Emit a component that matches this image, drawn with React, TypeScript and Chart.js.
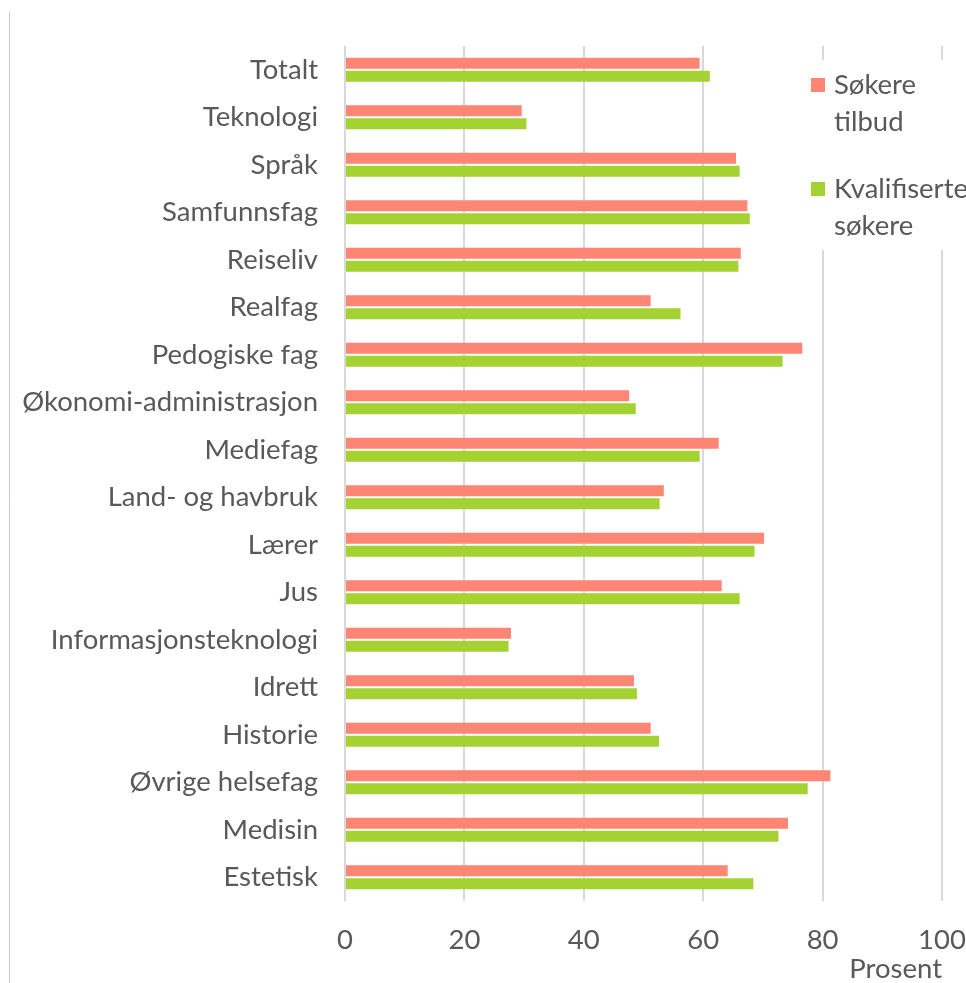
import React, { useEffect, useRef } from 'react';
import { Chart, registerables } from 'chart.js';
Chart.register(...registerables);

const categories = [
  'Totalt', 'Teknologi', 'Språk', 'Samfunnsfag', 'Reiseliv', 'Realfag', 'Pedogiske fag',
  'Økonomi-administrasjon', 'Mediefag', 'Land- og havbruk', 'Lærer', 'Jus',
  'Informasjonsteknologi', 'Idrett', 'Historie', 'Øvrige helsefag', 'Medisin', 'Estetisk',
];
const sokereTilbud = [59.4, 29.6, 65.5, 67.4, 66.3, 51.2, 76.6, 47.6, 62.6, 53.4, 70.2, 63.1, 27.8, 48.4, 51.2, 81.3, 74.2, 64.1];
const kvalifiserteSokere = [61.1, 30.4, 66.1, 67.8, 65.9, 56.2, 73.3, 48.7, 59.4, 52.7, 68.6, 66.1, 27.4, 48.9, 52.6, 77.5, 72.6, 68.4];
const seriesLabels = [['Søkere', 'tilbud'], ['Kvalifiserte', 'søkere']];
const seriesColors = ['#FF8675', '#A5D233'];
const axisTitle = 'Prosent';

const FONT = 'Lato';
const FS = 27.5;
const TEXT = '#595959';

const decorPlugin = {
  id: 'decor',
  beforeDraw(chart: any) {
    const { ctx } = chart;
    ctx.save();
    ctx.strokeStyle = '#c8c8c8';
    ctx.lineWidth = 1;
    ctx.beginPath();
    ctx.moveTo(9.5, 12);
    ctx.lineTo(9.5, chart.height);
    ctx.stroke();
    ctx.restore();
  },
  afterDraw(chart: any) {
    const { ctx } = chart;
    ctx.save();
    ctx.fillStyle = '#ffffff';
    ctx.fillRect(798, 60, 168, 190);
    ctx.font = `${FS}px ${FONT}`;
    ctx.textBaseline = 'middle';
    ctx.textAlign = 'left';
    const starts = [85, 189];
    seriesLabels.forEach((lines, i) => {
      const y0 = starts[i];
      ctx.fillStyle = seriesColors[i];
      ctx.fillRect(811, y0 - 7, 14, 14);
      ctx.fillStyle = TEXT;
      lines.forEach((t, j) => ctx.fillText(t, 834, y0 + j * 37));
    });
    ctx.restore();
  },
};

export default function App() {
  const ref = useRef<HTMLCanvasElement | null>(null);
  useEffect(() => {
    if (!ref.current) return;
    const chart = new Chart(ref.current, {
      type: 'bar',
      data: {
        labels: categories,
        datasets: [
          { label: seriesLabels[0].join(' '), data: sokereTilbud, backgroundColor: seriesColors[0], categoryPercentage: 0.54, barPercentage: 0.86 },
          { label: seriesLabels[1].join(' '), data: kvalifiserteSokere, backgroundColor: seriesColors[1], categoryPercentage: 0.54, barPercentage: 0.86 },
        ],
      },
      options: {
        indexAxis: 'y',
        animation: false,
        responsive: false,
        maintainAspectRatio: false,
        layout: { padding: { top: 46, right: 0, left: 0, bottom: 0 } },
        plugins: { legend: { display: false }, tooltip: { enabled: false } },
        scales: {
          x: {
            min: 0,
            max: 100,
            ticks: { stepSize: 20, color: TEXT, font: { family: FONT, size: FS }, padding: 23, maxRotation: 0 },
            grid: { color: '#d9d9d9', lineWidth: 2, drawTicks: false },
            border: { display: false },
            title: { display: true, text: axisTitle, align: 'end', color: TEXT, font: { family: FONT, size: FS, lineHeight: 1 }, padding: 0 },
            afterFit: (s: any) => { s.height = 82; s.paddingRight = 24; },
          },
          y: {
            ticks: { color: TEXT, font: { family: FONT, size: FS }, padding: 27, autoSkip: false },
            grid: { display: false, drawTicks: false },
            border: { display: false },
            afterFit: (s: any) => { s.width = 345; },
          },
        },
      },
      plugins: [decorPlugin],
    });
    return () => chart.destroy();
  }, []);
  return (
    <div style={{ position: 'fixed', left: 0, top: 0, width: 966, height: 983, background: '#fff' }}>
      <canvas ref={ref} width={966} height={983} style={{ width: 966, height: 983, display: 'block' }} />
    </div>
  );
}
